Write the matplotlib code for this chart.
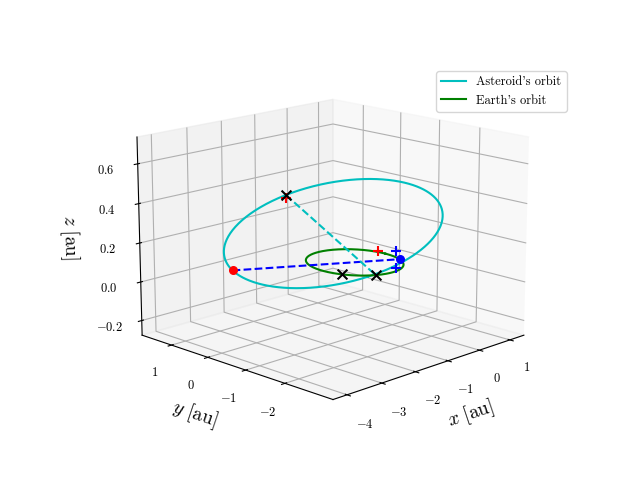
import numpy as np
import matplotlib
matplotlib.use("Agg")
import matplotlib.pyplot as plt

plt.rcParams["mathtext.fontset"] = "cm"
plt.rcParams["font.family"] = "cmr10"
plt.rcParams["axes.unicode_minus"] = False

# asteroid orbital elements (estimated)
a_ast = 2.66
e_ast = 0.61
inc_deg = 10.3
Omega_deg = 153.0
omega_deg = -128.0
r_earth = 1.0
# true anomalies on asteroid orbit (deg)
nu_red_dot = 128.0
nu_top = 178.0
# earth positions (angle, deg)
theta_blue_dot = -28.0
theta_x_a = -155.0
theta_x_b = -115.0
# extra observed markers (x, y, z)
red_plus_xyz = [(0.81, 0.04, 0.02)]
blue_plus_xyz = [(0.99, -0.28, 0.03), (0.21, -0.92, 0.01)]

def ast_pos(nu):
    nu = np.radians(nu)
    r = a_ast * (1 - e_ast**2) / (1 + e_ast * np.cos(nu))
    i = np.radians(inc_deg); O = np.radians(Omega_deg); w = np.radians(omega_deg)
    u = w + nu
    x = r * (np.cos(O) * np.cos(u) - np.sin(O) * np.sin(u) * np.cos(i))
    y = r * (np.sin(O) * np.cos(u) + np.cos(O) * np.sin(u) * np.cos(i))
    z = r * np.sin(u) * np.sin(i)
    return x, y, z

def earth_pos(th):
    th = np.radians(th)
    return r_earth * np.cos(th), r_earth * np.sin(th), 0 * th

fig = plt.figure(figsize=(6.4, 4.8), dpi=100)
ax = fig.add_subplot(projection="3d")
nu = np.linspace(0, 360, 400)
ax.plot(*ast_pos(nu), color="c", label="Asteroid's orbit")
ax.plot(*earth_pos(nu), color="g", label="Earth's orbit")

R = ast_pos(nu_red_dot); B = earth_pos(theta_blue_dot)
T = ast_pos(nu_top); E1 = earth_pos(theta_x_a); E2 = earth_pos(theta_x_b)
ax.plot([R[0], B[0]], [R[1], B[1]], [R[2], B[2]], "b--")
ax.plot([T[0], E2[0]], [T[1], E2[1]], [T[2], E2[2]], "c--")
ax.scatter(*R, color="r", s=30, depthshade=False)
ax.scatter(*B, color="b", s=30, depthshade=False)
ax.scatter(T[0], T[1], T[2] - 0.012, color="r", marker="+", s=50, depthshade=False)
for p in red_plus_xyz:
    ax.scatter(*p, color="r", marker="+", s=60, linewidths=1.5, depthshade=False)
for p in blue_plus_xyz:
    ax.scatter(*p, color="b", marker="+", s=60, linewidths=1.5, depthshade=False)
for P in (T, E1, E2):
    ax.scatter(*P, color="k", marker="x", s=50, linewidths=1.5, depthshade=False)

ax.set_xlabel(r"$x\ \mathrm{[au]}$", fontsize=14)
ax.set_ylabel(r"$y\ \mathrm{[au]}$", fontsize=14)
ax.set_zlabel(r"$z\ \mathrm{[au]}$", fontsize=14)
ax.set_xticks([-4, -3, -2, -1, 0, 1])
ax.set_yticks([-2, -1, 0, 1])
ax.set_zticks([-0.2, 0.0, 0.2, 0.4, 0.6])
ax.set_xticklabels([r"$%d$" % v for v in [-4, -3, -2, -1, 0, 1]])
ax.set_yticklabels([r"$%d$" % v for v in [-2, -1, 0, 1]])
ax.set_zticklabels([r"$%.1f$" % v for v in [-0.2, 0.0, 0.2, 0.4, 0.6]])
ax.tick_params(labelsize=9)
ax.view_init(elev=15, azim=-135)
ax.set_box_aspect(None, zoom=1.15)
fig.legend(loc="upper right", bbox_to_anchor=(0.895, 0.865), fontsize=9)
fig.savefig("out.png")
